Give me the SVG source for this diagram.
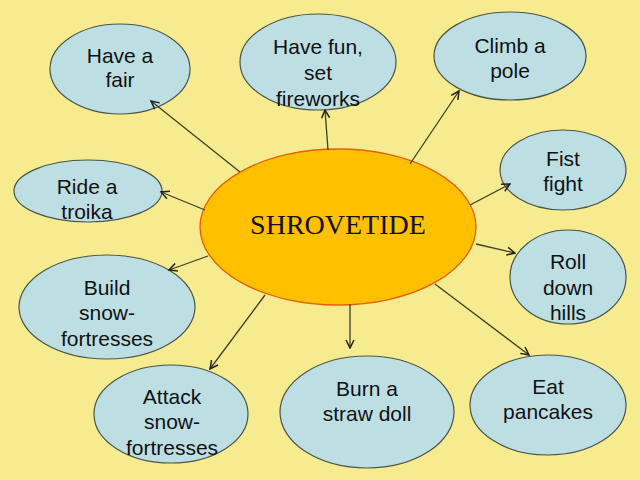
<svg xmlns="http://www.w3.org/2000/svg" width="640" height="480" viewBox="0 0 640 480">
<defs>
<style>
.n{fill:#BDDFE4;stroke:#4A5548;stroke-width:1.2}
.t{font-family:"Liberation Sans",Arial,sans-serif;font-size:21px;fill:#111;text-anchor:middle}
.c{stroke:#3E3E2C;stroke-width:1.3;fill:none;marker-end:url(#a)}
</style>
<marker id="a" viewBox="0 0 10 10" refX="9" refY="5" markerWidth="10" markerHeight="10" markerUnits="userSpaceOnUse" orient="auto">
<path d="M1,1 L9,5 L1,9" fill="none" stroke="#222" stroke-width="1.5"/>
</marker>
</defs>
<rect width="640" height="480" fill="#F6EB8E"/>
<g id="center">
<ellipse cx="338" cy="227" rx="138" ry="78" fill="#FFC000" stroke="#E2600A" stroke-width="1.3"/>
<text x="338" y="234" font-family="'Liberation Serif','Times New Roman',serif" font-size="28" fill="#111" text-anchor="middle">SHROVETIDE</text>
</g>
<g id="have-a-fair">
<ellipse class="n" cx="120" cy="69" rx="70" ry="45"/>
<text class="t" x="120" y="63">Have a</text>
<text class="t" x="120" y="87">fair</text>
</g>
<g id="have-fun">
<ellipse class="n" cx="318" cy="62" rx="78" ry="48"/>
<text class="t" x="318" y="54">Have fun,</text>
<text class="t" x="318" y="80">set</text>
<text class="t" x="318" y="106">fireworks</text>
</g>
<g id="climb">
<ellipse class="n" cx="510" cy="56" rx="76" ry="44"/>
<text class="t" x="510" y="53">Climb a</text>
<text class="t" x="510" y="78">pole</text>
</g>
<g id="fist">
<ellipse class="n" cx="563" cy="170" rx="63" ry="40"/>
<text class="t" x="563" y="166">Fist</text>
<text class="t" x="563" y="191">fight</text>
</g>
<g id="troika">
<ellipse class="n" cx="88" cy="191" rx="74" ry="31"/>
<text class="t" x="87" y="194">Ride a</text>
<text class="t" x="87" y="219">troika</text>
</g>
<g id="roll">
<ellipse class="n" cx="568" cy="277" rx="58" ry="47"/>
<text class="t" x="568" y="269">Roll</text>
<text class="t" x="568" y="295">down</text>
<text class="t" x="568" y="320">hills</text>
</g>
<g id="build">
<ellipse class="n" cx="107" cy="307" rx="88" ry="52"/>
<text class="t" x="107" y="295">Build</text>
<text class="t" x="107" y="320">snow-</text>
<text class="t" x="107" y="346">fortresses</text>
</g>
<g id="eat">
<ellipse class="n" cx="548" cy="405" rx="78" ry="50"/>
<text class="t" x="548" y="394">Eat</text>
<text class="t" x="548" y="419">pancakes</text>
</g>
<g id="burn">
<ellipse class="n" cx="367" cy="412" rx="87" ry="56"/>
<text class="t" x="367" y="396">Burn a</text>
<text class="t" x="367" y="421">straw doll</text>
</g>
<g id="attack">
<ellipse class="n" cx="171" cy="414" rx="77" ry="49"/>
<text class="t" x="172" y="404">Attack</text>
<text class="t" x="172" y="429">snow-</text>
<text class="t" x="172" y="455">fortresses</text>
</g>
<g id="connectors">
<line class="c" x1="240" y1="172" x2="151" y2="101"/>
<line class="c" x1="328" y1="150" x2="325" y2="110"/>
<line class="c" x1="410" y1="164" x2="459" y2="91"/>
<line class="c" x1="470" y1="205" x2="510" y2="184"/>
<line class="c" x1="205" y1="210" x2="161" y2="192"/>
<line class="c" x1="476" y1="244" x2="515" y2="253"/>
<line class="c" x1="208" y1="256" x2="169" y2="270"/>
<line class="c" x1="435" y1="284" x2="529" y2="355"/>
<line class="c" x1="350" y1="304" x2="350" y2="348"/>
<line class="c" x1="265" y1="295" x2="210" y2="369"/>
</g>
</svg>
